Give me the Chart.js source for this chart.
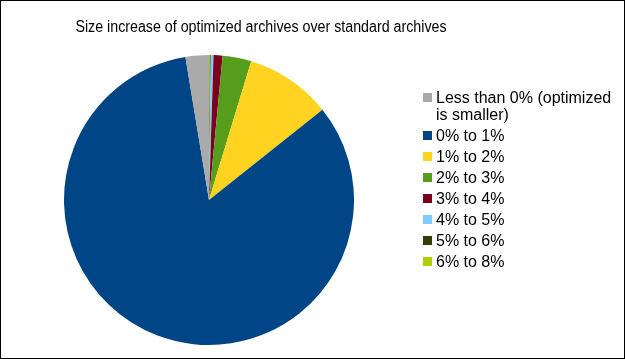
<!DOCTYPE html>
<html>
<head>
<meta charset="utf-8">
<script src="https://cdn.jsdelivr.net/npm/chart.js@4"></script>
<style>
  html, body { margin: 0; padding: 0; background: #fff; }
  #wrap { position: relative; width: 625px; height: 359px; font-family: "Liberation Sans", Arial, sans-serif; }
  #frame { position: absolute; left: 0; top: 0; width: 623px; height: 357px; border: 1px solid #000; pointer-events: none; }
  #title { position: absolute; left: 0; width: 522px; top: 17px; text-align: center; font-size: 16px; line-height: 20px; color: #000;
           transform: scaleX(0.89); transform-origin: 261px center; white-space: nowrap; }
  #legend { position: absolute; left: 423px; top: 89px; display: flex; flex-direction: column; gap: 4px; }
  .item { display: flex; align-items: flex-start; font-size: 16px; line-height: 17px; color: #000; }
  .sw { width: 9px; height: 9px; margin-top: 4px; margin-right: 4px; flex: none; }
</style>
</head>
<body>
<div id="wrap">
  <canvas id="pie" width="625" height="359"></canvas>
  <div id="title">Size increase of optimized archives over standard archives</div>
  <div id="legend"></div>
  <div id="frame"></div>
</div>
<script>
// categories in legend order (LibreOffice draws them counter-clockwise from 12 o'clock)
const categories = [
  "Less than 0% (optimized is smaller)",
  "0% to 1%",
  "1% to 2%",
  "2% to 3%",
  "3% to 4%",
  "4% to 5%",
  "5% to 6%",
  "6% to 8%"
];
const shares = [2.6, 83.1, 9.6, 3.2, 1.0, 0.3, 0.1, 0.1];
const colors = ["#aaaaaa", "#004586", "#ffd320", "#579d1c", "#7e0021", "#83caff", "#314004", "#aecf00"];

// legend
const legend = document.getElementById("legend");
categories.forEach((c, i) => {
  const div = document.createElement("div");
  div.className = "item";
  const text = i === 0 ? "Less than 0% (optimized<br>is smaller)" : c;
  div.innerHTML = `<span class="sw" style="background:${colors[i]}"></span><span>${text}</span>`;
  legend.appendChild(div);
});

// Chart.js draws clockwise, so feed the slices reversed
new Chart(document.getElementById("pie"), {
  type: "pie",
  data: {
    labels: categories.slice().reverse(),
    datasets: [{
      data: shares.slice().reverse(),
      backgroundColor: colors.slice().reverse(),
      borderWidth: 0
    }]
  },
  options: {
    responsive: false,
    animation: false,
    layout: { padding: { left: 64, right: 271, top: 55, bottom: 14 } },
    plugins: {
      legend: { display: false },
      title: { display: false },
      tooltip: { enabled: false }
    }
  }
});
</script>
</body>
</html>
